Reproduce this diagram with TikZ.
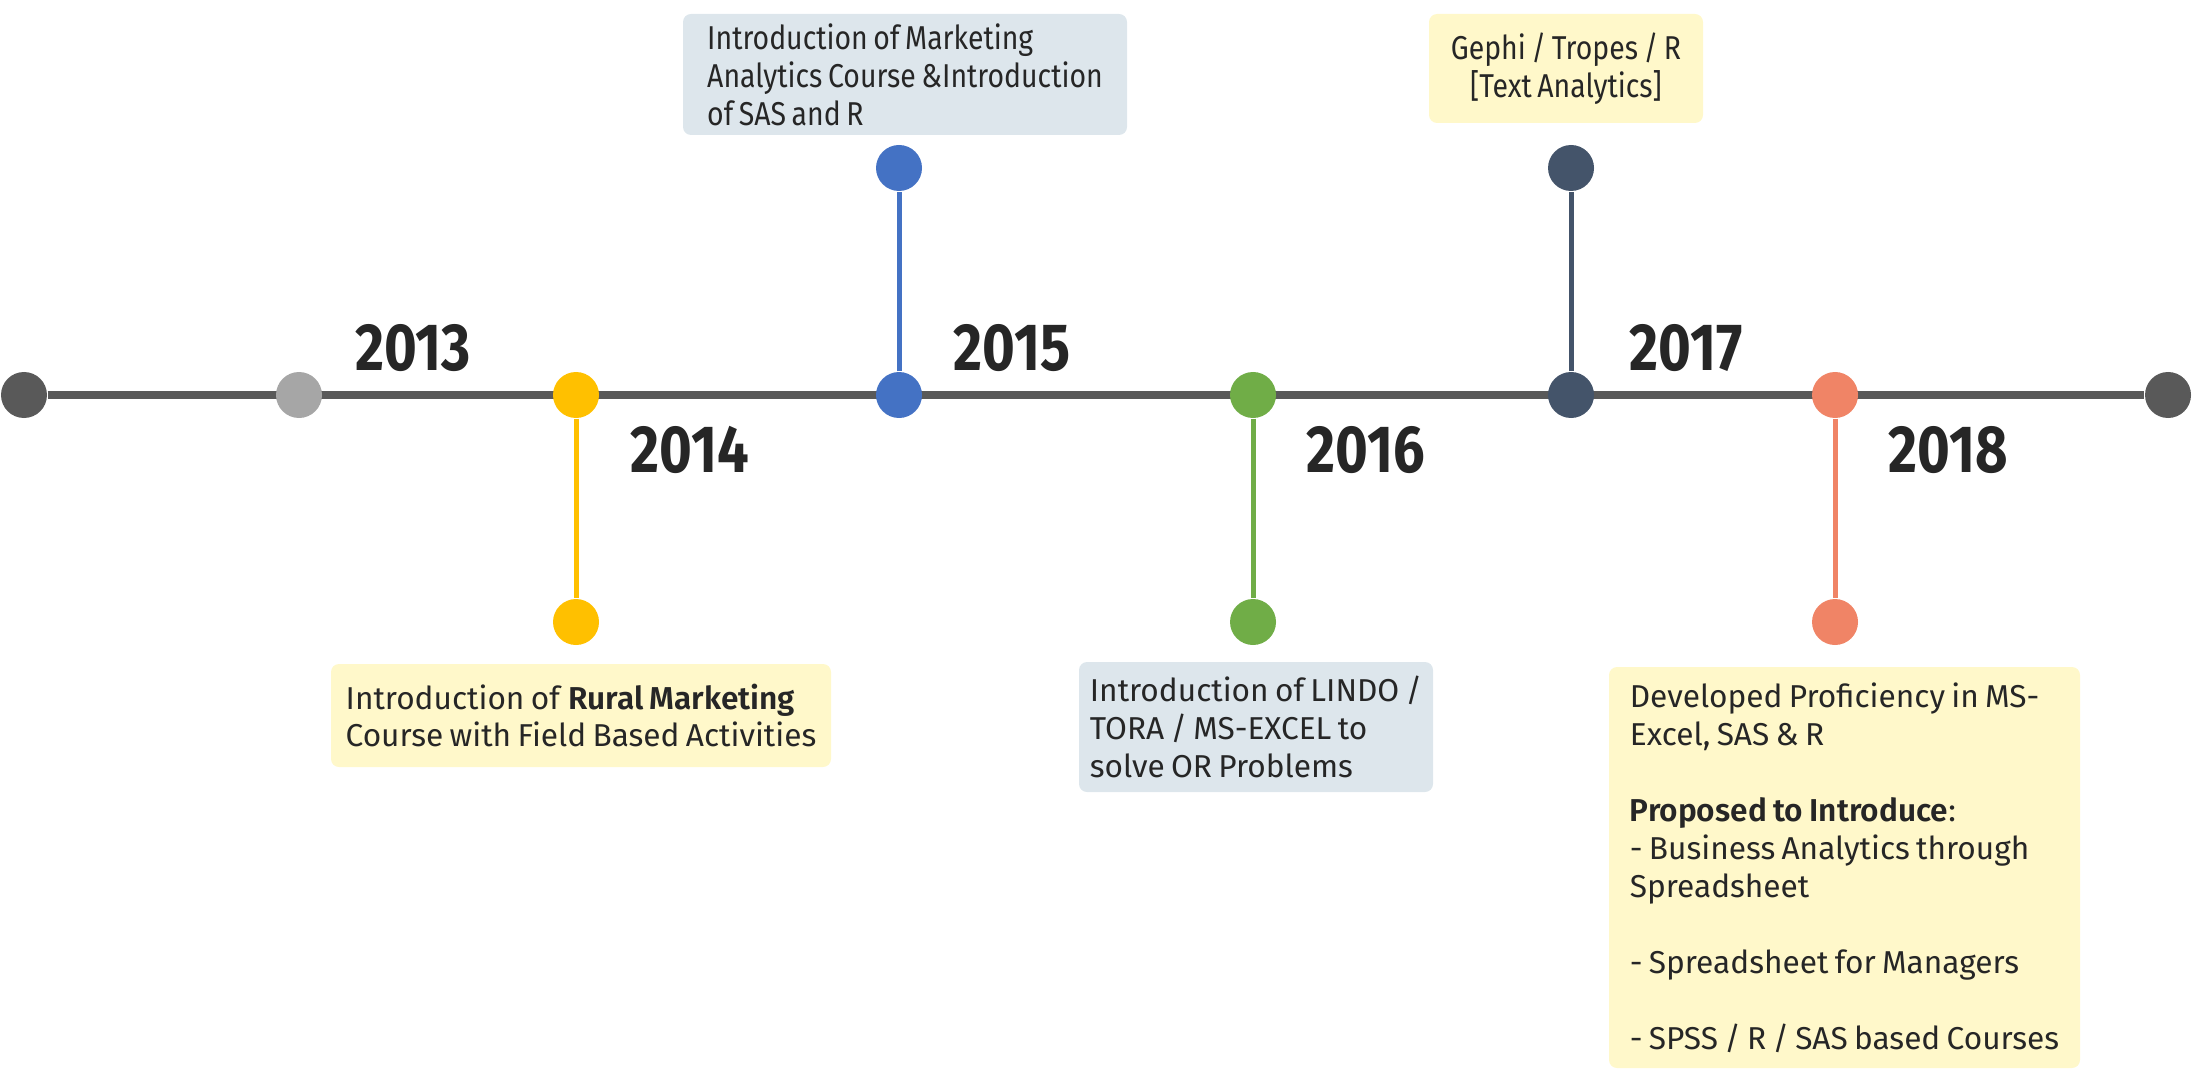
\documentclass[tikz,border=0pt]{standalone}
\usepackage{fontspec}
\setmainfont[BoldFont={Fira Sans SemiBold}]{Fira Sans}
\newfontfamily\narrowfont[FakeStretch=0.86, BoldFont={Fira Sans SemiBold}]{Fira Sans}
\newfontfamily\yearfont[FakeStretch=0.84]{Fira Sans}
\newcommand\tightspace{\spaceskip=0.2em plus 0.05em minus 0.03em\relax}
\newcommand\narrowspace{\spaceskip=0.17em plus 0.05em minus 0.03em\relax}
\usepackage{xcolor}
\usepackage{tikz}
\usetikzlibrary{positioning,backgrounds}

\definecolor{lineGray}{HTML}{595959}
\definecolor{dotGray}{HTML}{A6A6A6}
\definecolor{dotYellow}{HTML}{FFC000}
\definecolor{dotBlue}{HTML}{4472C4}
\definecolor{dotGreen}{HTML}{70AD47}
\definecolor{dotNavy}{HTML}{44546A}
\definecolor{dotSalmon}{HTML}{F08466}
\definecolor{noteYellow}{HTML}{FFF8CA}
\definecolor{noteBlue}{HTML}{DDE6EC}
\definecolor{textDark}{HTML}{262626}

\begin{document}
\begin{tikzpicture}[
  dot/.style={circle, inner sep=0pt, minimum size=0.46cm},
  stem/.style={line width=0.05cm},
  note/.style={rounded corners=0.08cm, inner sep=0pt, align=left, text=textDark, font=\fontsize{9}{10.8}\selectfont\tightspace},
  narrownote/.style={note, font=\narrowfont\fontsize{9.4}{10.8}\selectfont\narrowspace},
  year/.style={inner sep=0pt, text=textDark, font=\yearfont\bfseries\fontsize{19}{20}\selectfont}
]
\useasboundingbox (0,0) rectangle (21.98,-10.8);

% Timeline dots
\node[dot, fill=lineGray] (start) at (0.24,-3.95) {};
\node[dot, fill=dotGray] (t13) at (2.99,-3.95) {};
\node[dot, fill=dotYellow] (t14) at (5.76,-3.95) {};
\node[dot, fill=dotBlue] (t15) at (8.99,-3.95) {};
\node[dot, fill=dotGreen] (t16) at (12.53,-3.95) {};
\node[dot, fill=dotNavy] (t17) at (15.71,-3.95) {};
\node[dot, fill=dotSalmon] (t18) at (18.35,-3.95) {};
\node[dot, fill=lineGray] (stop) at (21.68,-3.95) {};

\begin{scope}[on background layer]
\draw[lineGray, line width=0.08cm] (start) -- (stop);
\end{scope}

% Stems
\node[dot, fill=dotYellow] (e14) at (5.76,-6.22) {};
\node[dot, fill=dotBlue] (e15) at (8.99,-1.68) {};
\node[dot, fill=dotGreen] (e16) at (12.53,-6.22) {};
\node[dot, fill=dotNavy] (e17) at (15.71,-1.68) {};
\node[dot, fill=dotSalmon] (e18) at (18.35,-6.22) {};
\draw[stem, dotYellow] (t14) -- (e14);
\draw[stem, dotBlue] (t15) -- (e15);
\draw[stem, dotGreen] (t16) -- (e16);
\draw[stem, dotNavy] (t17) -- (e17);
\draw[stem, dotSalmon] (t18) -- (e18);

% Years
\node[year] (y13) at (4.13,-3.48) {2013};
\node[year] (y14) at (6.90,-4.50) {2014};
\node[year] (y15) at (10.12,-3.48) {2015};
\node[year] (y16) at (13.66,-4.50) {2016};
\node[year] (y17) at (16.86,-3.48) {2017};
\node[year] (y18) at (19.48,-4.50) {2018};

% Notes
\node[note, fill=noteYellow, minimum width=5.00cm, minimum height=1.03cm] (n14) at (5.81,-7.155)
  {Introduction of \textbf{Rural Marketing}\\Course with Field Based Activities};
\node[narrownote, fill=noteBlue, minimum width=4.44cm, minimum height=1.21cm] (n15) at (9.05,-0.745)
  {Introduction of Marketing\\Analytics Course \&Introduction\\of SAS and R};
\node[note, fill=noteBlue, minimum width=3.54cm, minimum height=1.30cm] (n16) at (12.56,-7.27)
  {Introduction of LINDO /\\TORA / MS-EXCEL to\\solve OR Problems};
\node[narrownote, fill=noteYellow, align=center, minimum width=2.74cm, minimum height=1.09cm] (n17) at (15.66,-0.685)
  {Gephi / Tropes / R\\{[Text Analytics]}};
\node[note, fill=noteYellow, minimum width=4.71cm, minimum height=4.01cm] (n18) at (18.445,-8.675)
  {Developed Proficiency in MS-\\Excel, SAS \& R\\[10.8pt]\textbf{Proposed to Introduce}:\\- Business Analytics through\\Spreadsheet\\[10.8pt]- Spreadsheet for Managers\\[10.8pt]- SPSS / R / SAS based Courses};

\end{tikzpicture}
\end{document}
